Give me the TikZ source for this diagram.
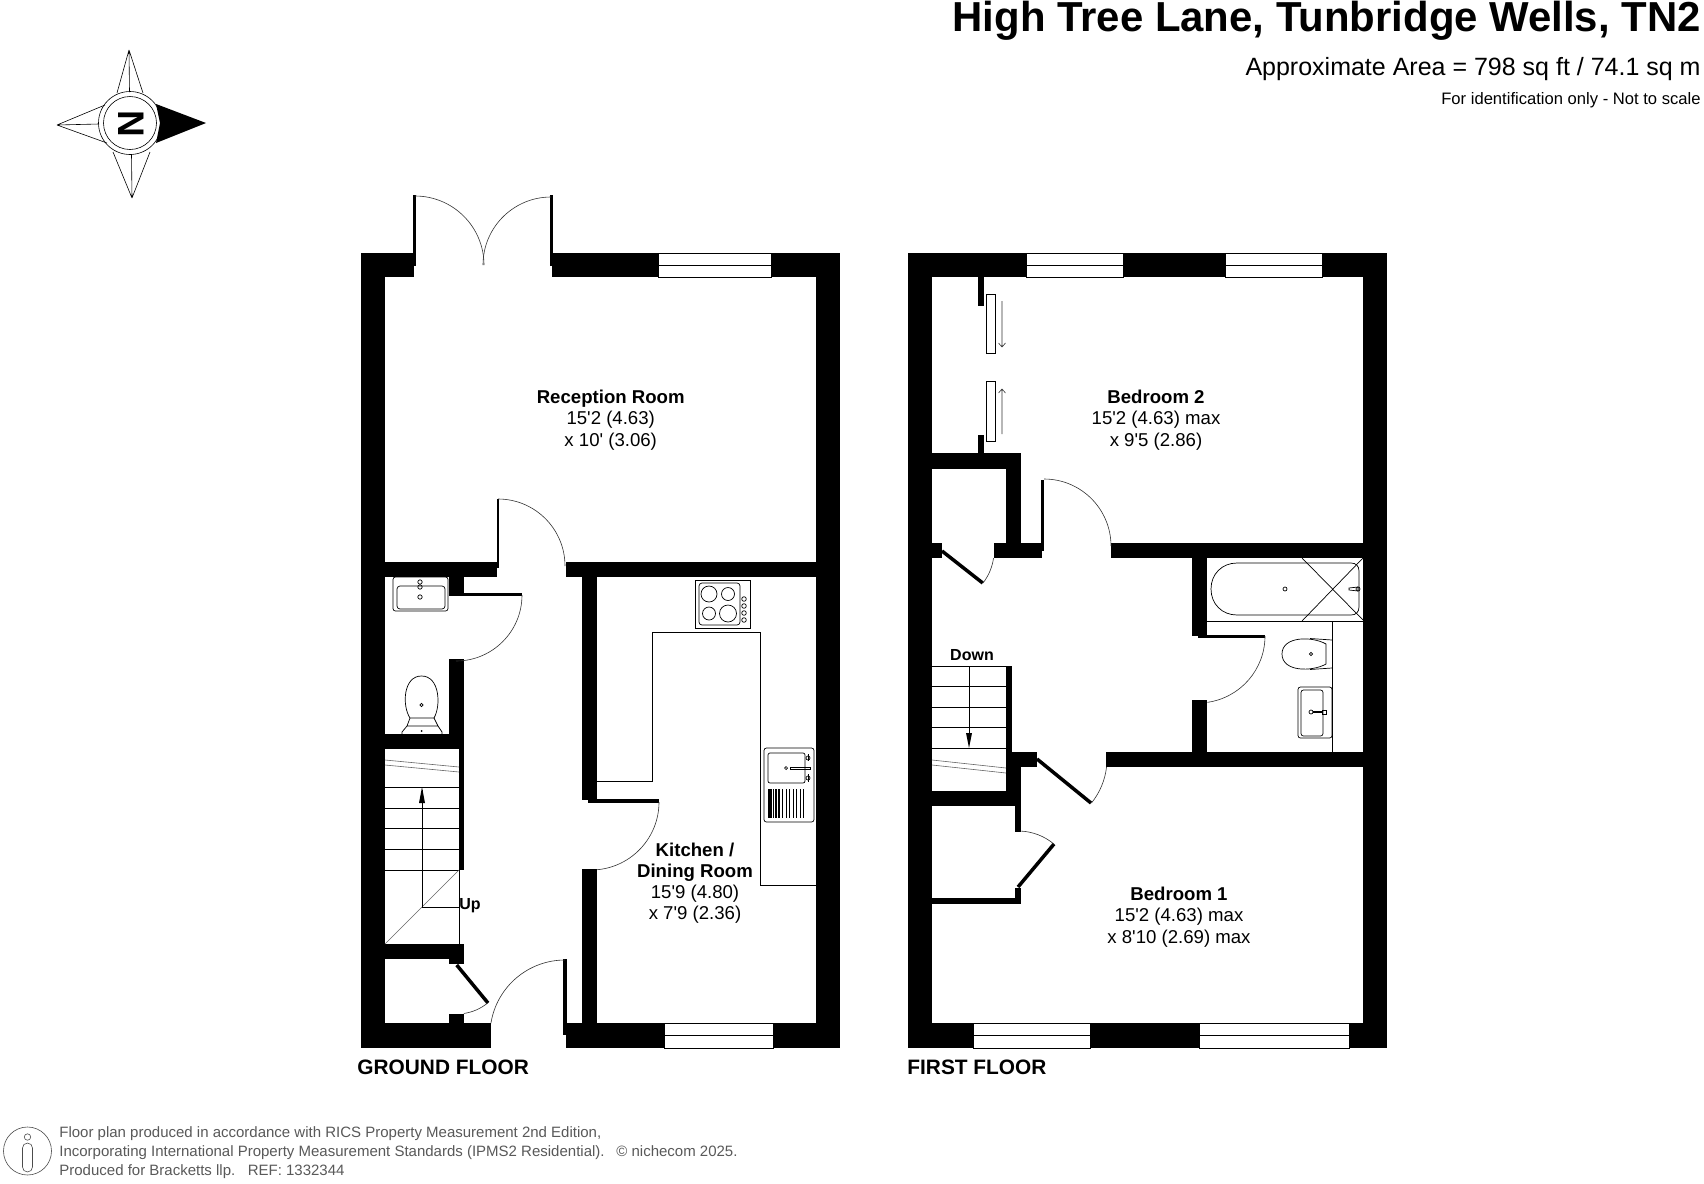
\documentclass[tikz,border=0pt]{standalone}
\usepackage{fontspec}
\setmainfont{Liberation Sans}
\newfontfamily\plainsans{Liberation Sans}
\AtBeginDocument{\plainsans}
\tikzset{
  thinline/.style={line width=.4pt,black},
  fixt/.style={line width=.35pt,black},
  grayline/.style={line width=.3pt,black!60},
  doorarc/.style={line width=.3pt,black!80},
  leaf/.style={line width=1.75pt,black},
  win/.style={fill=white,draw=black,line width=.4pt},
  room/.style={inner sep=0pt,align=center,font=\fontsize{9.3}{10.6}\selectfont},
  boldlabel/.style={inner sep=0pt,font=\fontsize{8}{10}\selectfont\bfseries},
  floorlabel/.style={inner sep=0pt,anchor=base west,font=\fontsize{10.43}{12}\selectfont\bfseries},
  foot/.style={inner sep=0pt,anchor=base west,text=black!65,font=\fontsize{7.5}{9}\selectfont}
}
\newcommand{\wl}[4]{\fill[black] (#1,#2) rectangle (#3,#4);}
\newcommand{\wnd}[5]{\draw[win] (#1,#2) rectangle (#3,#4); \draw[thinline] (#1,#5) -- (#3,#5);}
\newcommand{\darc}[5]{\draw[doorarc] (#1,#2) ++(#4:#3) arc[start angle=#4,end angle=#5,radius=#3];}
\begin{document}
\begin{tikzpicture}[x=.5pt,y=-.5pt]
\useasboundingbox (0,0) rectangle (1704,1184);
\fill[white] (0,0) rectangle (1704,1184);

% ---------- header
\node[inner sep=0pt,anchor=base east,font=\fontsize{20.95}{24}\selectfont\bfseries] (title) at (1701,31) {High Tree Lane, Tunbridge Wells, TN2};
\node[inner sep=0pt,anchor=base east,font=\fontsize{12.5}{14}\selectfont] (area) at (1701,75) {Approximate Area = 798 sq ft / 74.1 sq m};
\node[inner sep=0pt,anchor=base east,font=\fontsize{8.3}{10}\selectfont] (ident) at (1701,104) {For identification only - Not to scale};

% ---------- compass
\begin{scope}[line width=.3pt]
\draw (129,50) -- (117,93) (129,50) -- (143,93) (129,50) -- (129.5,92);
\draw (132,198) -- (113,152) (132,198) -- (150,152) (132,198) -- (131.5,154);
\draw (57,125) -- (105,105) (57,125) -- (107,143) (57,125) -- (99,124);
\fill[black] (206,123) -- (156,104) -- (160,123) -- (156,143) -- cycle;
\draw (130,123) circle[radius=31.5];
\draw (130,123) circle[radius=26.5];
\end{scope}
\node[inner sep=0pt,rotate=-90,font=\fontsize{18.5}{20}\selectfont\bfseries] (north) at (131,124) {N};

% ---------- ground floor walls
\wl{361}{253}{385}{1048}
\wl{816}{253}{840}{1048}
\wl{361}{253}{414}{277}
\wl{552}{253}{816}{277}
\wl{412.5}{195}{415.5}{266}
\wl{550}{195}{553}{266}
\wnd{658}{253}{771}{277}{265.3}
\wl{385}{562}{497}{577}
\wl{566}{562}{816}{577}
\wl{496.5}{499}{498.5}{568}
% wc
\wl{449}{577}{464}{596}
\wl{456}{593.3}{522}{596}
\wl{449}{659}{464}{734}
\wl{385}{734}{464}{749}
\wl{459}{749}{464}{870}
\wl{385}{944}{464}{959}
\wl{449}{959}{464}{964}
\draw[leaf] (456.7,965) -- (488,1003);
\wl{449}{1014}{464}{1023}
\wl{361}{1023}{491}{1048}
\wl{563}{959}{567}{1035}
\wl{566}{1023}{816}{1048}
\wnd{664}{1023}{773}{1048}{1035.3}
% kitchen wall
\wl{582}{577}{597}{800}
\wl{588}{799}{659}{802.5}
\wl{582}{869}{597}{1023}
% door arcs
\darc{415}{265}{69}{-90}{0}
\darc{551}{265}{68}{-90}{-180}
\darc{498}{566}{67}{-90}{0}
\darc{456}{595}{66}{0}{90}
\darc{456.7}{965}{49}{50.8}{81.5}
\darc{565}{1035}{75}{-90}{-171}
\darc{591}{802}{68}{0}{85}

% worktops
\draw[thinline] (597,781) -- (652,781) -- (652,632) -- (760,632) -- (760,885) -- (816,885);
% hob
\draw[thinline] (695,580) rectangle (750,628);
\draw[fixt,rounded corners=1.5pt] (699,583) rectangle (740,625);
\foreach \bx/\by/\br in {709/594/8,728/594/6.5,709/613.5/6.5,728/613.5/8.5} \draw[fixt] (\bx,\by) circle[radius=\br];
\foreach \by in {599,606,613,620} \draw[fixt] (744,\by) circle[radius=2.3];
% kitchen sink
\draw[fixt,rounded corners=1.2pt] (764,748) rectangle (814,822);
\draw[fixt,rounded corners=1pt] (768,753) rectangle (805,783);
\draw[fixt] (786,768) circle[radius=1.5];
\draw[fixt] (790,767) rectangle (810,769.5);
\foreach \by in {758,778} \draw[fixt] (808,\by) circle[radius=2];
\draw[fixt] (808,754) -- (808,761) (808,774) -- (808,782);
\foreach \dx/\lw in {768.5/1.0,771/.9,773.5/.8,776/.7,779/.6,782.5/.5,786/.4,789.5/.4,793/.35,796.5/.35,800/.35,803.5/.35}
  \draw[line width=\lw pt] (\dx,789) -- (\dx,818);
% wc basin
\draw[fixt,rounded corners=1.2pt] (393,577) rectangle (448,611);
\draw[fixt,rounded corners=1.5pt] (397,586) rectangle (445,609);
\foreach \by in {582,587,597} \draw[fixt] (420,\by) circle[radius=2.2];
% wc toilet
\draw[fixt] (410,718) .. controls (402,706) and (403,676) .. (421.5,676) .. controls (440,676) and (441,706) .. (434,718) -- cycle;
\draw[fixt] (421.5,705) circle[radius=1.6];
\draw[fixt] (407,726) -- (438,726) (407,726) -- (402,732) -- (402,734) (438,726) -- (442,732) -- (442,734) (410,718) -- (407,726) (434,718) -- (438,726);
\fill (421.6,731) circle[radius=1];
% stairs up
\foreach \sy in {787,808,828,849,870} \draw[thinline] (385,\sy) -- (459,\sy);
\draw[grayline] (385,760) -- (459,767) (385,765) -- (459,772);
\draw[grayline] (385,944) -- (459,870);
\draw[thinline] (459,870) -- (459,944);
\draw[thinline] (459,907) -- (422,907) -- (422,790);
\fill (422,787) -- (419,803) -- (425,803) -- cycle;

% ---------- first floor walls
\wl{908}{253}{932}{1048}
\wl{1363}{253}{1387}{1048}
\wl{908}{253}{1387}{277}
\wl{908}{1023}{1387}{1048}
\wnd{1026}{253}{1123}{277}{265.3}
\wnd{1225}{253}{1322}{277}{265.3}
\wnd{973.5}{1023}{1090}{1048}{1035.3}
\wnd{1199}{1023}{1349}{1048}{1035.3}
% wardrobe
\wl{978}{277}{984}{306}
\wl{978}{435}{984}{453}
\draw[thinline] (986.3,294) rectangle (995.7,353.7);
\draw[thinline] (986.3,381) rectangle (995.7,441.7);
\draw[doorarc] (1002,301) -- (1002,347) (998.5,343) -- (1002,347) -- (1005.5,343);
\draw[doorarc] (1002,434) -- (1002,389) (998.5,393) -- (1002,389) -- (1005.5,393);
\wl{932}{453}{1021}{469}
\wl{1006}{453}{1021}{543}
\wl{994}{543}{1042}{558}
\wl{1041}{480}{1044.3}{551}
\wl{1111}{543}{1363}{558}
\wl{932}{543}{942}{558}
\draw[leaf] (942,551) -- (982.7,583);
\wl{1192}{558}{1207}{636}
\wl{1198}{634.7}{1265}{637.5}
\wl{1192}{700}{1207}{752}
\wl{1106}{752}{1363}{767}
% stairs-side walls
\wl{1006}{666}{1012}{752}
\wl{1006}{752}{1037}{767}
\wl{1006}{767}{1021}{806}
\wl{932}{791}{1021}{806}
\wl{1015}{806}{1021}{832}
\wl{1015}{888}{1021}{904}
\wl{932}{898}{1021}{904}
\draw[leaf] (1037,759) -- (1091,803);
\draw[leaf] (1018,887) -- (1054,844);
% arcs
\darc{1044}{546}{67}{-90}{0}
\darc{942}{551}{52}{38}{8}
\darc{1198}{636}{67}{0}{82}
\darc{1037}{759}{70}{39}{6.5}
\darc{1018}{887}{56}{-50}{-87}
% stairs down
\foreach \sy in {666,686,707,727,748} \draw[thinline] (932,\sy) -- (1006,\sy);
\draw[grayline] (932,760) -- (1006,768) (932,765) -- (1006,773);
\draw[thinline] (969,666) -- (969,735);
\fill (969,748) -- (966,733) -- (972,733) -- cycle;
% bathroom
\draw[thinline] (1207,621) -- (1363,621);
\draw[thinline] (1332,621) -- (1332,752);
\draw[fixt] (1237,563) -- (1351,563) .. controls (1356,563) and (1359,566) .. (1359,571) -- (1359,607) .. controls (1359,612) and (1356,615) .. (1351,615) -- (1237,615) .. controls (1222,615) and (1211,604) .. (1211,589) .. controls (1211,574) and (1222,563) .. (1237,563) -- cycle;
\draw[fixt] (1302,558) -- (1363,620) (1363,558) -- (1302,621);
\draw[fixt] (1285,589) circle[radius=2];
\draw[fixt] (1349,588) -- (1358,587) -- (1358,591) -- (1349,590) -- cycle;
\draw[fixt] (1358,589) circle[radius=2];
% bathroom toilet
\draw[fixt] (1326,644) -- (1326,664) .. controls (1312,672) and (1282,672) .. (1282,654) .. controls (1282,636) and (1312,636) .. (1326,644) -- cycle;
\draw[fixt] (1310,638.5) -- (1332,640) (1310,669.5) -- (1332,668);
\draw[fixt] (1311,654) circle[radius=1.6];
% bathroom basin
\draw[fixt,rounded corners=1.2pt] (1298,687) rectangle (1332,738);
\draw[fixt,rounded corners=1.2pt] (1301,690) rectangle (1323,736);
\draw[fixt] (1311,712) circle[radius=2];
\draw[fixt] (1313,711.5) -- (1322,711.5) (1313,712.5) -- (1322,712.5);
\draw[fixt] (1322,710) rectangle (1326,714);

% ---------- labels
\node[room] (reception) at (610.7,420) {\textbf{Reception Room}\\15'2 (4.63)\\x 10' (3.06)};
\node[room] (kitchen) at (695,883) {\textbf{Kitchen /}\\\textbf{Dining Room}\\15'9 (4.80)\\x 7'9 (2.36)};
\node[room] (bedtwo) at (1156,420) {\textbf{Bedroom 2}\\15'2 (4.63) max\\x 9'5 (2.86)};
\node[room] (bedone) at (1179,917) {\textbf{Bedroom 1}\\15'2 (4.63) max\\x 8'10 (2.69) max};
\node[boldlabel] (up) at (470,906) {Up};
\node[boldlabel] (down) at (972,655) {Down};
\node[floorlabel] (gf) at (357,1074) {GROUND FLOOR};
\node[floorlabel] (ff) at (907,1074) {FIRST FLOOR};

% ---------- footer
\draw[line width=.3pt,black!70] (27.5,1151) ellipse[x radius=24,y radius=24];
\draw[line width=.3pt,black!70] (27.5,1137) circle[radius=3.2];
\draw[line width=.3pt,black!70,rounded corners=2.5pt] (22.5,1143) rectangle (32.5,1172);
\node[foot] (fone) at (59,1137) {Floor plan produced in accordance with RICS Property Measurement 2nd Edition,};
\node[foot] (ftwo) at (59,1156) {Incorporating International Property Measurement Standards (IPMS2 Residential).};
\node[foot] (fthree) at (59,1175) {Produced for Bracketts llp.\ \ \ REF: 1332344};
\node[foot] (fcopy) at (616,1156) {© nichecom 2025.};
\end{tikzpicture}
\end{document}
